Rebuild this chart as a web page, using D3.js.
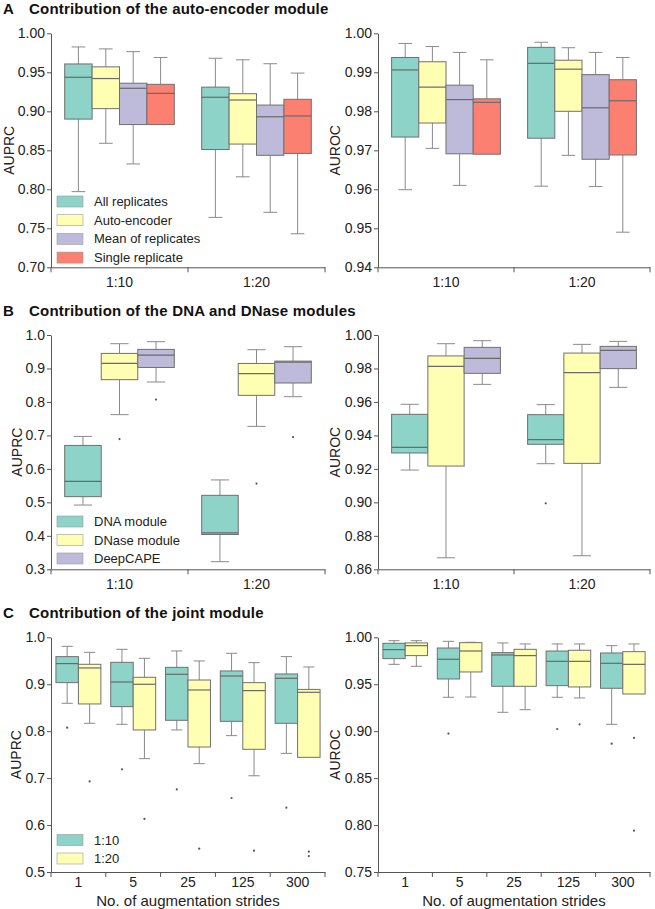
<!DOCTYPE html>
<html><head><meta charset="utf-8">
<script src="https://cdn.jsdelivr.net/npm/d3@7"></script>
<style>
html,body{margin:0;padding:0;background:#fff;}
svg{display:block;font-family:"Liberation Sans",Arial,sans-serif;}
</style></head>
<body>
<svg id="chart" width="655" height="909"></svg>
<script>
// ---------- DATA ----------
// each box: [lowWhisker, Q1, median, Q3, highWhisker]
const ratioCats = ["1:10", "1:20"];
const strideCats = ["1", "5", "25", "125", "300"];

const aSeries = ["All replicates", "Auto-encoder", "Mean of replicates", "Single replicate"];
const aAuprc = [
  [[0.797,0.890,0.9436,0.9607,0.9825],[0.859,0.9034,0.942,0.957,0.980],[0.8325,0.883,0.9295,0.936,0.9765],[0.883,0.883,0.923,0.9346,0.969]],
  [[0.764,0.851,0.918,0.931,0.968],[0.816,0.858,0.9145,0.9226,0.966],[0.7705,0.8436,0.893,0.908,0.961],[0.743,0.846,0.894,0.9154,0.949]]
];
const aAuroc = [
  [[0.9599,0.9734,0.9906,0.9938,0.9974],[0.9705,0.977,0.9862,0.9927,0.9966],[0.961,0.9691,0.983,0.9867,0.9951],[0.969,0.969,0.9823,0.9832,0.9932]],
  [[0.9608,0.9731,0.9923,0.9964,0.9977],[0.9687,0.980,0.9908,0.9931,0.9963],[0.9607,0.9677,0.9809,0.9894,0.9951],[0.949,0.9688,0.9827,0.9881,0.9938]]
];
const aAuprcOut = [[[],[],[],[]],[[],[],[],[]]];
const aAurocOut = [[[],[],[],[]],[[],[],[],[]]];

const bSeries = ["DNA module", "DNase module", "DeepCAPE"];
const bAuprc = [
  [[0.492,0.517,0.5627,0.670,0.697],[0.762,0.8665,0.915,0.945,0.974],[0.8596,0.903,0.940,0.957,0.980]],
  [[0.3227,0.404,0.409,0.521,0.567],[0.727,0.8197,0.8845,0.915,0.956],[0.8157,0.8566,0.919,0.922,0.965]]
];
const bAuprcOut = [[[],[0.689],[0.807]],[[],[0.556],[0.695]]];
const bAuroc = [
  [[0.9193,0.9295,0.9329,0.9526,0.9586],[0.8669,0.9217,0.9813,0.9875,0.9948],[0.9705,0.9771,0.986,0.9926,0.9966]],
  [[0.9231,0.9347,0.9375,0.9524,0.9584],[0.8681,0.9233,0.9775,0.9892,0.9944],[0.9687,0.9799,0.9908,0.9932,0.9962]]
];
const bAurocOut = [[[],[],[]],[[0.8994],[],[]]];

const cSeries = ["1:10", "1:20"];
const cAuprc = [
  [[0.8594,0.9034,0.944,0.9588,0.9808],[0.8168,0.858,0.9347,0.9425,0.968]],
  [[0.8146,0.8523,0.9048,0.9467,0.9744],[0.7415,0.8026,0.8999,0.9148,0.9553]],
  [[0.8026,0.8232,0.9212,0.936,0.9709],[0.7308,0.7663,0.8878,0.909,0.9496]],
  [[0.7905,0.821,0.9176,0.9283,0.9659],[0.705,0.7614,0.8864,0.9034,0.946]],
  [[0.7528,0.8168,0.9126,0.9219,0.9588],[0.7443,0.7443,0.8828,0.889,0.9368]]
];
const cAuprcOut = [[[0.8075],[0.693]],[[0.7188],[0.613]],[[0.676],[0.5497]],[[0.6577],[0.5455]],[[0.637],[0.5433,0.534]]];
const cAuroc = [
  [[0.9712,0.9773,0.9869,0.9936,0.9964],[0.9691,0.9805,0.9911,0.994,0.9964]],
  [[0.9361,0.9556,0.9766,0.9886,0.9957],[0.9364,0.9631,0.9854,0.9943,0.9947]],
  [[0.9201,0.9478,0.9812,0.9837,0.994],[0.9229,0.9478,0.9805,0.9872,0.9929]],
  [[0.9361,0.9485,0.9744,0.9854,0.9929],[0.9354,0.9471,0.9744,0.9862,0.9929]],
  [[0.9073,0.9457,0.9723,0.9833,0.9911],[0.9396,0.9396,0.9712,0.9847,0.9929]]
];
const cAurocOut = [[[],[]],[[0.8974],[]],[[],[]],[[0.9023],[0.9073]],[[0.8867],[0.8928,0.794]]];

const ticksA1 = [0.70,0.75,0.80,0.85,0.90,0.95,1.00];
const ticksA2 = [0.94,0.95,0.96,0.97,0.98,0.99,1.00];
const ticksB1 = [0.3,0.4,0.5,0.6,0.7,0.8,0.9,1.0];
const ticksB2 = [0.86,0.88,0.90,0.92,0.94,0.96,0.98,1.00];
const ticksC1 = [0.5,0.6,0.7,0.8,0.9,1.0];
const ticksC2 = [0.75,0.80,0.85,0.90,0.95,1.00];

const colorsA = ["#8dd3c7","#ffffb3","#bebada","#fb8072"];
const colorsB = ["#8dd3c7","#ffffb3","#bebada"];
const colorsC = ["#8dd3c7","#ffffb3"];

// ---------- DRAWING ----------
const svg = d3.select("#chart");
const AXIS = "#555", TXT = "#222", BOXSTROKE = "#707070", WHISK = "#8a8a8a";

function panel(o) {
  const g = svg.append("g");
  const x = d3.scaleBand().domain(o.cats).range([o.x0, o.x1]).paddingInner(0).paddingOuter(0);
  const y = d3.scaleLinear().domain(o.domain).range([o.yb, o.yt]);
  const bw = x.bandwidth();
  const sub = d3.scaleBand().domain(d3.range(o.series.length))
      .range([bw*(1-o.frac)/2, bw*(1+o.frac)/2]).padding(0);
  const w = sub.bandwidth();

  o.cats.forEach((c, ci) => {
    o.data[ci].forEach((d, si) => {
      const cx = x(c) + sub(si) + w/2;
      const left = x(c) + sub(si);
      const gb = g.append("g");
      [[d[0], d[1]], [d[3], d[4]]].forEach(([a, b]) => {
        if (Math.abs(a - b) < 1e-9) return;
        gb.append("line").attr("x1", cx).attr("x2", cx).attr("y1", y(a)).attr("y2", y(b))
          .attr("stroke", WHISK).attr("stroke-width", 1);
      });
      [d[0], d[4]].forEach((v, k) => {
        if (Math.abs(v - d[k ? 3 : 1]) < 1e-9) return;
        gb.append("line").attr("x1", cx - w/4).attr("x2", cx + w/4).attr("y1", y(v)).attr("y2", y(v))
          .attr("stroke", WHISK).attr("stroke-width", 1);
      });
      gb.append("rect").attr("x", left).attr("width", w)
        .attr("y", y(d[3])).attr("height", Math.max(0.5, y(d[1]) - y(d[3])))
        .attr("fill", o.colors[si]).attr("stroke", BOXSTROKE).attr("stroke-width", 1);
      gb.append("line").attr("x1", left).attr("x2", left + w).attr("y1", y(d[2])).attr("y2", y(d[2]))
        .attr("stroke", "#6a6a6a").attr("stroke-width", 1.2);
      (o.out[ci][si] || []).forEach(v => {
        gb.append("circle").attr("cx", cx).attr("cy", y(v)).attr("r", 1.1).attr("fill", "#555");
      });
    });
  });

  const ya = g.append("g").attr("transform", `translate(${o.x0},0)`)
    .call(d3.axisLeft(y).tickValues(o.ticks).tickFormat(d3.format(o.fmt)).tickSize(4).tickPadding(2).tickSizeOuter(0));
  ya.select(".domain").attr("stroke", AXIS);
  ya.selectAll(".tick line").attr("stroke", AXIS);
  ya.selectAll("text").attr("font-size", 14).attr("fill", TXT).attr("font-family", "Liberation Sans, Arial, sans-serif");

  const xa = g.append("g").attr("transform", `translate(0,${o.yb})`)
    .call(d3.axisBottom(x).tickSize(0).tickPadding(o.xPad).tickSizeOuter(0));
  xa.select(".domain").attr("stroke", AXIS);
  xa.selectAll("text").attr("font-size", 14).attr("fill", TXT).attr("font-family", "Liberation Sans, Arial, sans-serif");
  const bounds = o.cats.map(c => x(c)).concat([o.x1]);
  g.selectAll(null).data(bounds).join("line")
    .attr("x1", d => d).attr("x2", d => d).attr("y1", o.yb).attr("y2", o.yb + 5)
    .attr("stroke", AXIS);

  g.append("text").attr("transform", `translate(${o.ylx},${(o.yt + o.yb)/2}) rotate(-90)`)
    .attr("text-anchor", "middle").attr("font-size", 14).attr("fill", TXT).text(o.ylabel);

  if (o.xlabel) {
    g.append("text").attr("x", (o.x0 + o.x1)/2).attr("y", o.yb + 33.5).attr("text-anchor", "middle")
      .attr("font-size", 15).attr("fill", TXT).text(o.xlabel);
  }

  if (o.legend) {
    const lg = g.append("g");
    o.series.forEach((s, i) => {
      const cy = o.legend.y + i * o.legend.dy;
      lg.append("rect").attr("x", o.x0 + 6).attr("y", cy - 5.5).attr("width", 26).attr("height", 11)
        .attr("fill", o.colors[i]).attr("stroke", "#9a9a9a").attr("stroke-width", 0.6);
      lg.append("text").attr("x", o.x0 + 43).attr("y", cy + 4.5).attr("font-size", 13).attr("fill", TXT).text(s);
    });
  }
}

function title(letter, txt, yb) {
  const t = svg.append("text").attr("y", yb).attr("font-size", 15).attr("font-weight", "bold").attr("fill", "#111");
  t.append("tspan").attr("x", 3).text(letter);
  t.append("tspan").attr("x", 29).attr("letter-spacing", 0.2).text(txt);
}

const L = {x0: 51, x1: 325}, R = {x0: 378, x1: 650};

title("A", "Contribution of the auto-encoder module", 13.5);
panel({...L, yt: 33.3, yb: 267.3, cats: ratioCats, series: aSeries, data: aAuprc, out: aAuprcOut, colors: colorsA,
  domain: [0.70, 1.00], ticks: ticksA1, fmt: ".2f", frac: 0.8, ylabel: "AUPRC", ylx: 13.5, xPad: 10,
  legend: {y: 201.5, dy: 18.7}});
panel({...R, yt: 33.3, yb: 267.3, cats: ratioCats, series: aSeries, data: aAuroc, out: aAurocOut, colors: colorsA,
  domain: [0.94, 1.00], ticks: ticksA2, fmt: ".2f", frac: 0.8, ylabel: "AUROC", ylx: 340, xPad: 10});

title("B", "Contribution of the DNA and DNase modules", 316);
panel({...L, yt: 335, yb: 569.3, cats: ratioCats, series: bSeries, data: bAuprc, out: bAuprcOut, colors: colorsB,
  domain: [0.3, 1.0], ticks: ticksB1, fmt: ".1f", frac: 0.8, ylabel: "AUPRC", ylx: 21.5, xPad: 10,
  legend: {y: 521.5, dy: 18.5}});
panel({...R, yt: 335, yb: 569.3, cats: ratioCats, series: bSeries, data: bAuroc, out: bAurocOut, colors: colorsB,
  domain: [0.86, 1.00], ticks: ticksB2, fmt: ".2f", frac: 0.8, ylabel: "AUROC", ylx: 340, xPad: 10});

title("C", "Contribution of the joint module", 618.3);
panel({...L, yt: 637.3, yb: 872, cats: strideCats, series: cSeries, data: cAuprc, out: cAuprcOut, colors: colorsC,
  domain: [0.5, 1.0], ticks: ticksC1, fmt: ".1f", frac: 0.82, ylabel: "AUPRC", ylx: 21, xPad: 5,
  xlabel: "No. of augmentation strides", legend: {y: 840, dy: 18.5}});
panel({...R, yt: 637.3, yb: 872, cats: strideCats, series: cSeries, data: cAuroc, out: cAurocOut, colors: colorsC,
  domain: [0.75, 1.00], ticks: ticksC2, fmt: ".2f", frac: 0.82, ylabel: "AUROC", ylx: 340, xPad: 5,
  xlabel: "No. of augmentation strides"});
</script>
</body></html>
